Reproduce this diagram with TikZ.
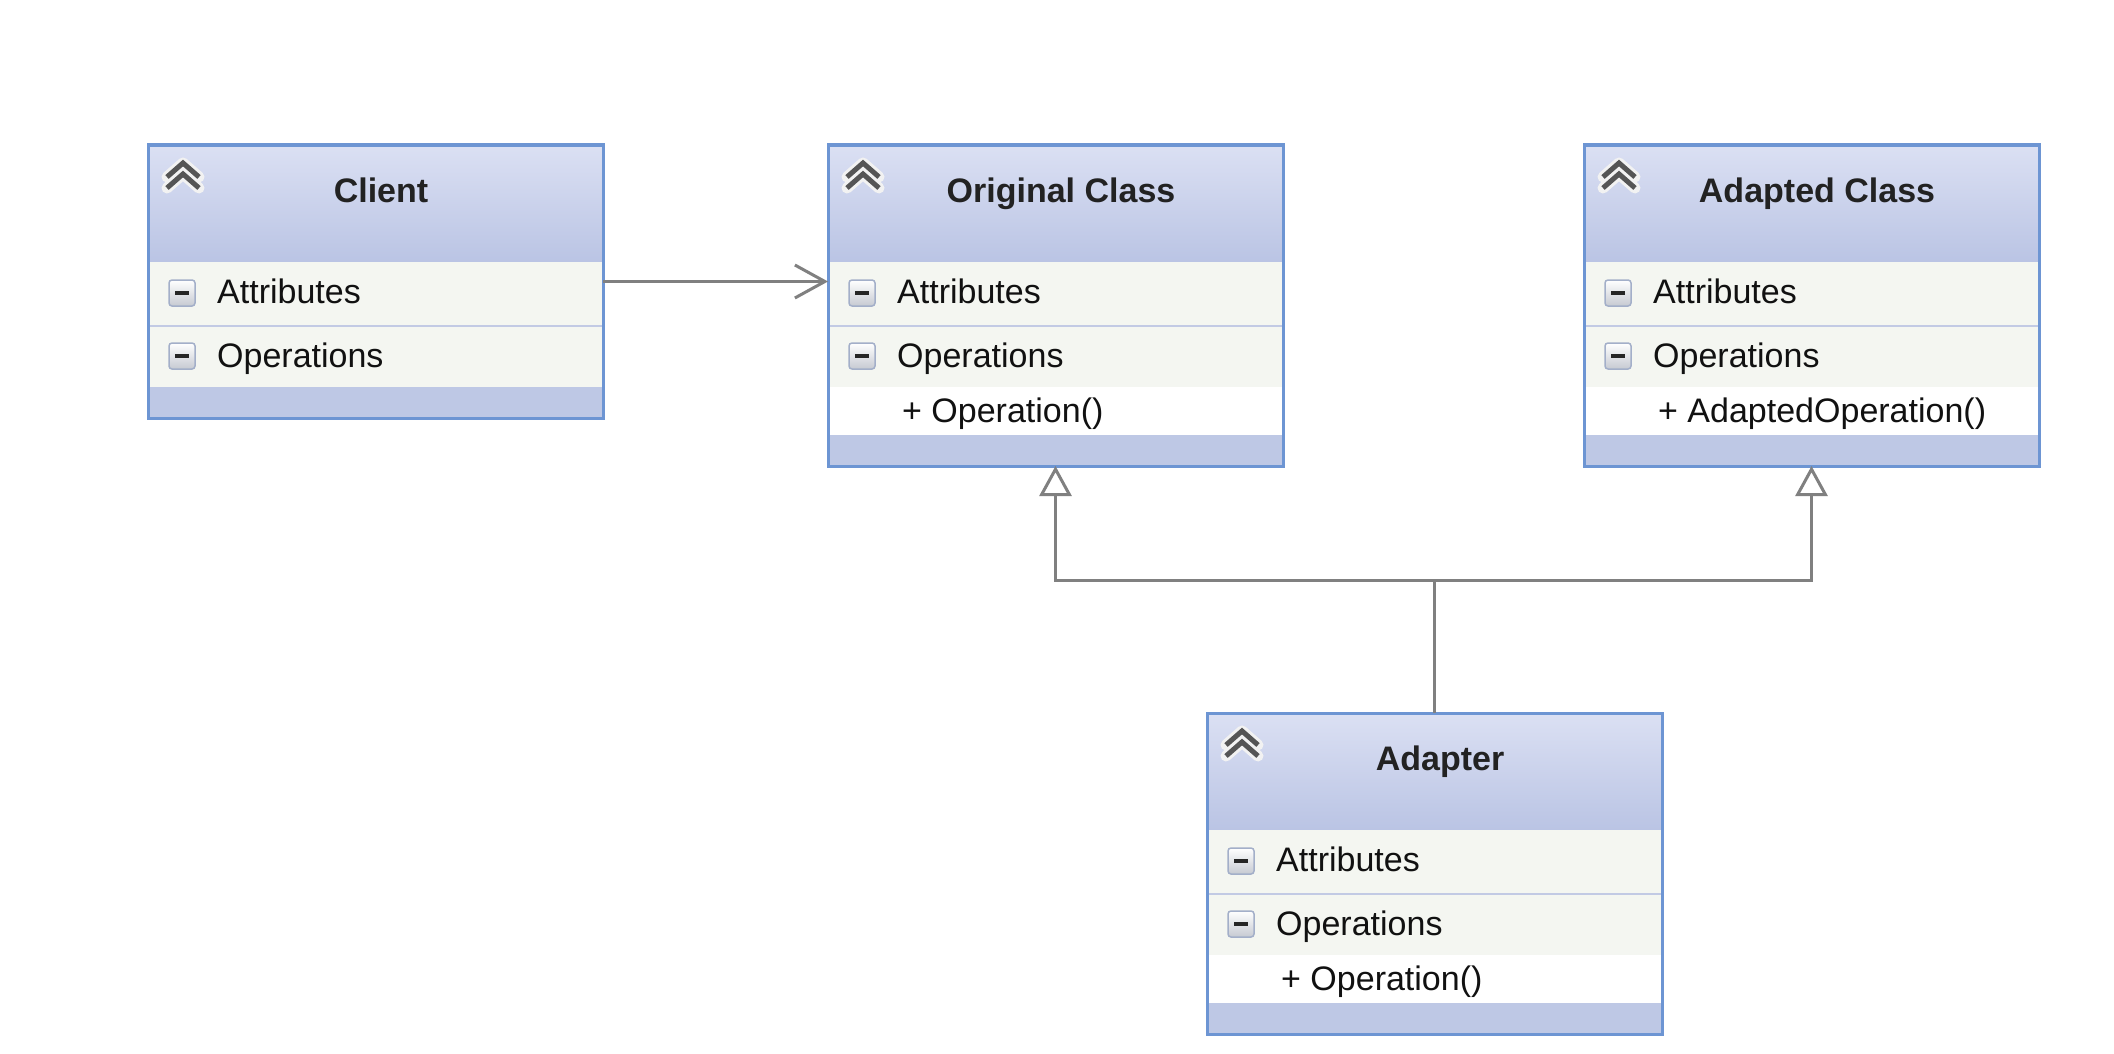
\documentclass[tikz,border=0pt]{standalone}
\usepackage{fontspec}
\setmainfont{Liberation Sans}
\usetikzlibrary{arrows.meta,calc}
\definecolor{hdtop}{HTML}{DBE0F3}
\definecolor{hdbot}{HTML}{BAC4E4}
\definecolor{rowfill}{HTML}{F4F6F1}
\definecolor{footfill}{HTML}{BEC8E5}
\definecolor{sepcol}{HTML}{C2CAE4}
\definecolor{framecol}{HTML}{6D95D3}
\definecolor{linkcol}{HTML}{808080}
\definecolor{txtcol}{HTML}{111111}
\definecolor{titlecol}{HTML}{222222}
\definecolor{iconcol}{HTML}{555555}
\definecolor{halocol}{HTML}{F2F2F2}
\definecolor{minusbot}{HTML}{C6CAD2}
\definecolor{minusedge}{HTML}{A3AFC9}
\tikzset{
  classframe/.style={draw=framecol, line width=3pt, inner sep=0pt, outer sep=0pt,
    minimum width=455pt, anchor=north west},
  titletext/.style={font=\fontsize{34pt}{40pt}\selectfont\bfseries, text=titlecol,
    inner sep=0pt, anchor=base},
  rowtext/.style={font=\fontsize{34pt}{40pt}\selectfont, text=txtcol,
    inner sep=0pt, anchor=base west},
  sepline/.style={draw=sepcol, line width=2pt},
  link/.style={draw=linkcol, line width=3pt},
  assoc/.style={link, -{Straight Barb[length=30pt, width=33pt]}},
  inherit/.style={link, -{Triangle[open, length=30pt, width=32pt, fill=white]}},
}
\newcommand\minusicon[2]{%
  \shade[top color=white, bottom color=minusbot, draw=minusedge, line width=1.5pt,
    rounded corners=3pt] (#1-13,#2-13) rectangle (#1+13,#2+13);
  \draw[black!85, line width=3.5pt] (#1-7,#2) -- (#1+7,#2);
}
\newcommand\chevicon[2]{%
  \foreach \dy in {0,11} {
    \draw[halocol, line width=11pt, line join=round, line cap=round]
      (#1-16,#2+\dy+7) -- (#1,#2+\dy-7) -- (#1+16,#2+\dy+7);
  }
  \foreach \dy in {0,11} {
    \draw[iconcol, line width=5pt, line join=miter]
      (#1-16,#2+\dy+7) -- (#1,#2+\dy-7) -- (#1+16,#2+\dy+7);
  }
}
\newcommand\umlclass[5]{% name, x, y, title, operation
  \begin{scope}[shift={(#2,#3)}]
    \shade[top color=hdtop, bottom color=hdbot] (0,0) rectangle (455,117);
    \fill[rowfill] (0,117) rectangle (455,180);
    \fill[rowfill] (0,181) rectangle (455,242);
    \draw[sepline] (0,180.5) -- (455,180.5);
    \if\relax\detokenize{#5}\relax
      \fill[footfill] (0,242) rectangle (455,273);
      \node[classframe, minimum height=273pt] (#1) at (0,0) {};
    \else
      \fill[white] (0,242) rectangle (455,290);
      \fill[footfill] (0,290) rectangle (455,321);
      \node[rowtext] (#1-op) at (74,277) {+ #5};
      \node[classframe, minimum height=321pt] (#1) at (0,0) {};
    \fi
    \chevicon{35}{25}
    \node[titletext] (#1-title) at (233,57) {#4};
    \minusicon{34}{148}
    \node[rowtext] (#1-attr) at (69,158) {Attributes};
    \minusicon{34}{211}
    \node[rowtext] (#1-ops) at (69,222) {Operations};
  \end{scope}
}
\begin{document}
\begin{tikzpicture}[x=1pt, y=-1pt]
  \useasboundingbox[fill=white] (0,0) rectangle (2114,1054);
  \umlclass{client}{148}{145}{Client}{}
  \umlclass{original}{828}{145}{Original Class}{Operation()}
  \umlclass{adapted}{1584}{145}{Adapted Class}{AdaptedOperation()}
  \umlclass{adapter}{1207}{713}{Adapter}{Operation()}
  \draw[assoc] (client.east) -- (client.east -| original.west);
  \coordinate (junction) at (1434.5,580);
  \draw[link] (adapter.north) -- (junction);
  \draw[inherit] (junction) -| (original.south);
  \draw[inherit] (junction) -| (adapted.south);
\end{tikzpicture}
\end{document}
